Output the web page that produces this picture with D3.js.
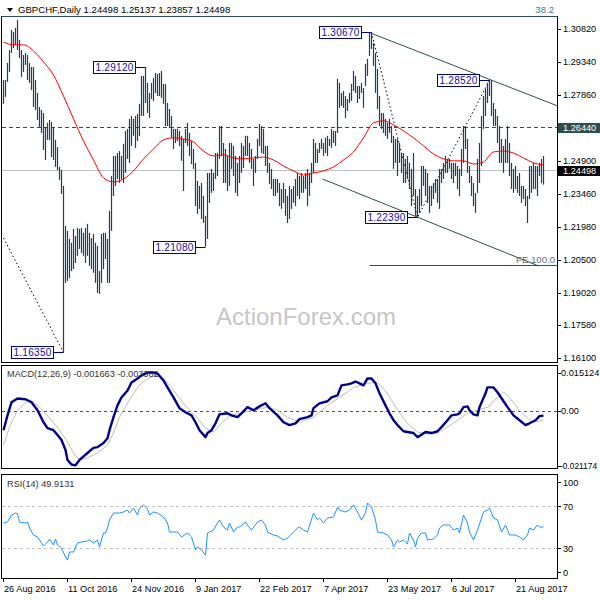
<!DOCTYPE html>
<html><head><meta charset="utf-8">
<script src="https://cdn.jsdelivr.net/npm/d3@7"></script>
<style>
body{margin:0;background:#fff}
svg{display:block}
text{font-family:"Liberation Sans",Arial,sans-serif}
</style>
</head><body>
<svg id="c" width="600" height="600"></svg>
<script>
// ---------------- DATA ----------------
const titleText = "GBPCHF,Daily 1.24498 1.25137 1.23857 1.24498";
const fibText = "38.2";
const lastClose = 1.24498;
const levelLine = 1.2644;

const highs = [
1.2854,1.2854,1.2930,1.2988,1.3078,1.3069,1.3087,1.3122,1.3033,1.2988,
1.2966,1.2975,1.2966,1.2930,1.2912,1.2912,1.2854,1.2796,1.2733,1.2720,
1.2706,1.2644,1.2662,1.2675,1.2666,1.2644,1.2586,1.2554,1.2465,1.2451,
1.2380,1.2201,1.2179,1.2143,1.2125,1.2188,1.2156,1.2192,1.2188,1.2192,
1.2170,1.2192,1.2210,1.2170,1.2147,1.2165,1.2125,1.2111,1.1999,1.2165,
1.2170,1.2170,1.2143,1.2268,1.2424,1.2514,1.2514,1.2527,1.2536,1.2514,
1.2568,1.2626,1.2635,1.2680,1.2693,1.2680,1.2693,1.2702,1.2747,1.2872,
1.2872,1.2912,1.2841,1.2796,1.2841,1.2863,1.2885,1.2881,1.2885,1.2894,
1.2836,1.2836,1.2751,1.2724,1.2693,1.2635,1.2635,1.2635,1.2626,1.2604,
1.2590,1.2635,1.2662,1.2617,1.2581,1.2545,1.2483,1.2402,1.2380,1.2393,
1.2335,1.2246,1.2438,1.2438,1.2456,1.2438,1.2527,1.2527,1.2648,1.2648,
1.2572,1.2545,1.2514,1.2572,1.2572,1.2559,1.2514,1.2483,1.2514,1.2572,
1.2559,1.2604,1.2604,1.2572,1.2545,1.2501,1.2514,1.2590,1.2657,1.2648,
1.2635,1.2559,1.2559,1.2483,1.2456,1.2411,1.2411,1.2411,1.2393,1.2366,
1.2393,1.2366,1.2335,1.2380,1.2366,1.2380,1.2411,1.2438,1.2424,1.2438,
1.2424,1.2438,1.2456,1.2438,1.2483,1.2590,1.2572,1.2545,1.2572,1.2590,
1.2572,1.2595,1.2604,1.2590,1.2635,1.2626,1.2626,1.2859,1.2841,1.2796,
1.2805,1.2782,1.2769,1.2796,1.2836,1.2894,1.2872,1.2827,1.2827,1.2841,
1.2818,1.2926,1.2948,1.3064,1.3067,1.3019,1.2975,1.2903,1.2782,1.2706,
1.2706,1.2680,1.2662,1.2680,1.2648,1.2604,1.2590,1.2590,1.2572,1.2527,
1.2527,1.2501,1.2514,1.2483,1.2456,1.2527,1.2366,1.2335,1.2366,1.2469,
1.2469,1.2456,1.2438,1.2380,1.2380,1.2393,1.2411,1.2411,1.2456,1.2456,
1.2483,1.2514,1.2501,1.2501,1.2483,1.2483,1.2483,1.2469,1.2456,1.2545,
1.2648,1.2648,1.2590,1.2469,1.2424,1.2393,1.2349,1.2501,1.2572,1.2693,
1.2782,1.2814,1.2841,1.2852,1.2852,1.2751,1.2724,1.2693,1.2648,1.2590,
1.2559,1.2590,1.2648,1.2572,1.2483,1.2456,1.2469,1.2424,1.2438,1.2380,
1.2380,1.2366,1.2335,1.2469,1.2469,1.2483,1.2469,1.2469,1.2483,1.2501,
1.25137];

const lows = [
1.2747,1.2778,1.2845,1.2890,1.2975,1.2997,1.3010,1.2988,1.2952,1.2867,
1.2890,1.2921,1.2854,1.2841,1.2809,1.2733,1.2720,1.2675,1.2644,1.2617,
1.2541,1.2496,1.2586,1.2586,1.2509,1.2496,1.2465,1.2451,1.2407,1.2344,
1.1635,1.1946,1.1955,1.1968,1.1999,1.2008,1.2035,1.2067,1.2098,1.2080,
1.2067,1.2035,1.2067,1.2022,1.2008,1.1991,1.1946,1.1901,1.1897,1.1946,
1.2008,1.2053,1.1946,1.1946,1.2179,1.2335,1.2380,1.2411,1.2393,1.2411,
1.2393,1.2438,1.2501,1.2483,1.2559,1.2604,1.2550,1.2581,1.2604,1.2693,
1.2693,1.2751,1.2706,1.2684,1.2769,1.2760,1.2796,1.2782,1.2782,1.2774,
1.2747,1.2648,1.2648,1.2639,1.2595,1.2545,1.2572,1.2581,1.2559,1.2492,
1.2357,1.2572,1.2559,1.2514,1.2478,1.2456,1.2290,1.2255,1.2277,1.2232,
1.2214,1.2108,1.2143,1.2304,1.2349,1.2357,1.2411,1.2424,1.2501,1.2514,
1.2393,1.2393,1.2357,1.2380,1.2456,1.2424,1.2349,1.2335,1.2393,1.2438,
1.2460,1.2514,1.2514,1.2483,1.2456,1.2380,1.2438,1.2501,1.2559,1.2527,
1.2523,1.2469,1.2438,1.2389,1.2366,1.2335,1.2335,1.2349,1.2290,1.2277,
1.2304,1.2246,1.2214,1.2232,1.2277,1.2304,1.2290,1.2335,1.2321,1.2349,
1.2349,1.2366,1.2290,1.2335,1.2393,1.2438,1.2483,1.2483,1.2527,1.2545,
1.2514,1.2527,1.2514,1.2559,1.2550,1.2572,1.2559,1.2617,1.2729,1.2738,
1.2729,1.2684,1.2715,1.2751,1.2760,1.2805,1.2796,1.2751,1.2769,1.2796,
1.2729,1.2827,1.2872,1.2961,1.2993,1.2917,1.2796,1.2724,1.2648,1.2635,
1.2617,1.2604,1.2590,1.2617,1.2572,1.2456,1.2483,1.2424,1.2483,1.2438,
1.2393,1.2393,1.2411,1.2366,1.2290,1.2335,1.2246,1.2239,1.2259,1.2290,
1.2380,1.2335,1.2304,1.2259,1.2290,1.2321,1.2349,1.2304,1.2277,1.2393,
1.2411,1.2438,1.2438,1.2456,1.2411,1.2393,1.2424,1.2366,1.2335,1.2424,
1.2483,1.2545,1.2438,1.2393,1.2335,1.2290,1.2259,1.2349,1.2393,1.2469,
1.2635,1.2693,1.2751,1.2782,1.2693,1.2648,1.2648,1.2572,1.2483,1.2483,
1.2438,1.2483,1.2483,1.2424,1.2366,1.2349,1.2366,1.2349,1.2335,1.2304,
1.2321,1.2290,1.2214,1.2321,1.2349,1.2366,1.2366,1.2335,1.2424,1.2393,
1.23857];

// moving average (red), [bar, price]
const maPoints = [
[0,1.3024],[5,1.3011],[10,1.3011],[15,1.2984],[20,1.2935],[25,1.2876],[30,1.2782],[35,1.2680],
[40,1.2581],[45,1.2496],[50,1.2416],[55,1.2398],[60,1.2411],[65,1.2447],[70,1.2501],[75,1.2545],
[80,1.2586],[85,1.2595],[90,1.2590],[95,1.2577],[100,1.2536],[105,1.2514],[110,1.2519],[115,1.2505],
[120,1.2501],[125,1.2505],[130,1.2509],[135,1.2496],[140,1.2469],[145,1.2447],[150,1.2429],[155,1.2438],
[160,1.2447],[165,1.2465],[170,1.2496],[175,1.2532],[180,1.2595],[185,1.2662],[190,1.2671],[195,1.2653],
[200,1.2626],[205,1.2595],[210,1.2559],[215,1.2523],[220,1.2501],[225,1.2492],[230,1.2492],[235,1.2478],
[240,1.2487],[245,1.2532],[250,1.2536],[255,1.2527],[260,1.2505],[265,1.2483],[270,1.2474]];

const priceTicks = [1.3082,1.2934,1.2786,1.2490,1.2346,1.2198,1.2050,1.1902,1.1758,1.1610];

// swing labels: [bar, price, text]
const swingLabels = [[30,1.1635,"1.16350"],[71,1.2912,"1.29120"],[101,1.2108,"1.21080"],
  [184,1.3067,"1.30670"],[207,1.2239,"1.22390"],[243,1.2852,"1.28520"]];

// trend channel and projection, [bar, price]
const upperTrend = [[183.5,1.3064],[277,1.2738]];
const lowerTrend = [[159.5,1.2411],[267.5,1.2022]];
const feLevel = [[183,1.2024],[277,1.2024]];
const feText = "FE 100.0";
const zigzag1 = [[0,1.2147],[30,1.1635]];
const zigzag2 = [[184,1.3067],[207,1.2239],[243,1.2852]];

// MACD, [bar, value]
const macdHeader = "MACD(12,26,9) -0.001663 -0.003362";
const macdMain = [
[0,-0.0074],[2,-0.0016],[4,0.0035],[7,0.0050],[11,0.0047],[14,0.0035],[17,0.0004],[20,-0.0043],
[22,-0.0066],[25,-0.0074],[27,-0.0093],[29,-0.0112],[31,-0.0151],[32,-0.0190],[34,-0.0208],[36,-0.0211],
[38,-0.0190],[42,-0.0163],[45,-0.0143],[47,-0.0140],[50,-0.0124],[52,-0.0105],[53,-0.0074],[55,-0.0023],
[57,0.0023],[59,0.0054],[62,0.0081],[64,0.0112],[67,0.0128],[69,0.0140],[72,0.0151],[75,0.0151],
[77,0.0147],[80,0.0120],[82,0.0093],[85,0.0054],[88,0.0012],[91,-0.0004],[94,-0.0016],[96,-0.0043],
[98,-0.0074],[101,-0.0101],[102,-0.0085],[104,-0.0074],[106,-0.0047],[108,-0.0012],[112,-0.0008],[114,-0.0016],
[117,-0.0023],[119,-0.0008],[122,0.0016],[125,0.0004],[128,0.0019],[131,0.0031],[133,0.0012],[137,-0.0016],
[140,-0.0043],[143,-0.0054],[146,-0.0047],[148,-0.0031],[152,-0.0023],[154,-0.0016],[155,0.0012],[158,0.0031],
[162,0.0039],[164,0.0054],[167,0.0062],[169,0.0101],[172,0.0105],[174,0.0109],[176,0.0116],[178,0.0109],
[180,0.0101],[182,0.0128],[184,0.0128],[186,0.0109],[188,0.0070],[191,0.0023],[193,-0.0008],[195,-0.0035],
[197,-0.0054],[200,-0.0078],[202,-0.0081],[205,-0.0085],[207,-0.0101],[208,-0.0097],[211,-0.0081],[214,-0.0085],
[217,-0.0078],[219,-0.0062],[222,-0.0035],[224,-0.0016],[227,-0.0012],[228,-0.0008],[230,0.0016],[232,0.0019],
[233,0.0004],[235,-0.0012],[237,-0.0016],[238,0.0016],[241,0.0070],[242,0.0093],[245,0.0093],[247,0.0074],
[250,0.0039],[252,0.0016],[255,-0.0016],[258,-0.0035],[261,-0.0054],[263,-0.0047],[266,-0.0035],[268,-0.0019],
[270,-0.0017]];
const macdSignal = [
[0,-0.0132],[3,-0.0062],[7,0.0004],[11,0.0035],[14,0.0043],[18,0.0016],[23,-0.0027],[27,-0.0062],
[32,-0.0120],[35,-0.0163],[38,-0.0190],[42,-0.0182],[47,-0.0163],[52,-0.0132],[55,-0.0085],[58,-0.0023],
[62,0.0031],[65,0.0070],[68,0.0101],[72,0.0128],[76,0.0140],[80,0.0128],[83,0.0101],[87,0.0062],
[92,0.0012],[97,-0.0027],[101,-0.0066],[105,-0.0081],[109,-0.0047],[113,-0.0019],[118,-0.0008],[125,0.0004],
[132,0.0016],[137,0.0004],[142,-0.0023],[148,-0.0043],[155,-0.0023],[162,0.0023],[168,0.0054],[175,0.0093],
[182,0.0109],[187,0.0112],[192,0.0070],[197,0.0004],[202,-0.0047],[207,-0.0081],[212,-0.0089],[217,-0.0085],
[222,-0.0062],[227,-0.0035],[232,-0.0008],[237,0.0004],[242,0.0016],[247,0.0054],[250,0.0074],[253,0.0054],
[257,0.0012],[262,-0.0027],[265,-0.0043],[270,-0.0034]];
const macdTicks = [0.015124, 0.0, -0.021174];
const macdTickText = ["0.015124","0.00","-0.021174"];

// RSI, [bar, value]
const rsiHeader = "RSI(14) 49.9131";
const rsiPoints = [
[0,53.8],[2,54.8],[4,61.4],[6,63.3],[7,62.4],[8,54.8],[11,53.8],[12,54.8],[13,49.0],[15,42.4],
[17,40.5],[18,37.6],[20,31.9],[22,35.7],[23,38.6],[25,32.9],[26,38.6],[27,32.9],[29,30.0],[31,21.4],
[32,18.6],[33,26.2],[35,26.2],[37,34.8],[39,35.7],[42,36.7],[43,37.6],[45,34.8],[47,37.6],[48,31.0],
[50,44.3],[51,44.3],[52,49.0],[53,56.7],[55,63.3],[58,63.3],[60,64.3],[62,66.2],[63,63.3],[65,68.0],
[67,61.4],[68,68.0],[70,71.0],[72,67.1],[73,61.4],[75,64.3],[77,63.3],[80,59.5],[82,53.8],[83,45.2],
[87,45.2],[89,40.5],[92,44.3],[94,40.5],[96,28.1],[97,31.0],[99,28.1],[101,23.3],[102,44.3],[103,45.2],
[105,47.1],[107,53.8],[108,56.7],[110,50.0],[112,47.1],[113,53.8],[115,45.2],[117,50.0],[118,50.0],[121,54.8],
[122,51.9],[124,47.1],[127,54.8],[129,56.7],[131,51.9],[132,45.2],[135,42.4],[137,41.4],[140,37.6],[142,39.5],
[145,45.2],[147,49.0],[148,50.0],[150,47.1],[152,45.2],[155,63.3],[157,56.7],[158,58.6],[160,53.8],[162,58.6],
[165,59.5],[167,69.0],[168,66.2],[171,64.3],[173,66.2],[175,71.0],[177,64.3],[179,56.7],[181,63.3],[182,72.9],
[184,69.0],[186,56.7],[187,45.2],[190,44.3],[192,42.4],[194,37.6],[195,31.0],[197,37.6],[198,35.7],[200,37.6],
[202,33.8],[203,44.3],[205,37.6],[206,31.0],[207,39.5],[209,44.3],[211,44.3],[212,37.6],[215,38.6],[217,42.4],
[218,49.0],[220,51.9],[223,51.9],[225,47.1],[227,49.0],[228,44.3],[230,61.4],[232,53.8],[233,45.2],[235,37.6],
[237,47.1],[240,64.3],[242,66.2],[243,68.0],[245,58.6],[247,56.7],[249,45.2],[251,51.9],[253,42.4],[256,42.4],
[258,40.5],[260,37.6],[262,42.4],[263,49.0],[265,47.1],[267,51.9],[268,50.0],[270,49.9]];
const rsiTicks = [100,70,30,0];
const rsiLevels = [70,30];

// time axis
const dateTickBars = [0,32,64,96,128,160,192,224,256];
const dateTickLabels = ["26 Aug 2016","11 Oct 2016","24 Nov 2016","9 Jan 2017","22 Feb 2017",
  "7 Apr 2017","23 May 2017","6 Jul 2017","21 Aug 2017"];
const watermark = "ActionForex.com";

// ---------------- DRAW ----------------
const svg = d3.select("#c");
const AX = 557;
const MAIN = {top:16, bottom:362};
const MACDP = {top:365, bottom:468};
const RSIP = {top:474, bottom:578};
const FS = 9.2;

const x = d3.scaleLinear().domain([0, highs.length-1]).range([3, 3 + 2*(highs.length-1)]);
const y = d3.scaleLinear().domain([1.1610, 1.3082]).range([358, 29]);
const ym = d3.scaleLinear().domain([-0.021174, 0.015124]).range([465.5, 372.5]);
const yr = d3.scaleLinear().domain([0, 100]).range([579.5, 474.5]);

const defs = svg.append("defs");
defs.append("clipPath").attr("id","clipMain").append("rect")
  .attr("x",2).attr("y",MAIN.top+1).attr("width",AX-2).attr("height",MAIN.bottom-MAIN.top-1);
defs.append("clipPath").attr("id","clipMacd").append("rect")
  .attr("x",2).attr("y",MACDP.top+1).attr("width",AX-2).attr("height",MACDP.bottom-MACDP.top-1);
defs.append("clipPath").attr("id","clipRsi").append("rect")
  .attr("x",2).attr("y",RSIP.top+1).attr("width",AX-2).attr("height",RSIP.bottom-RSIP.top-1);

svg.append("rect").attr("width",600).attr("height",600).attr("fill","#fff");

svg.append("path").attr("d","M7,8 L13,8 L10,12 Z").attr("fill","#000");
svg.append("text").attr("x",18).attr("y",13).attr("font-size",9.6).attr("fill","#000").text(titleText);
svg.append("text").attr("x",554).attr("y",13).attr("text-anchor","end").attr("font-size",9.6)
  .attr("fill","#4f6f8a").text(fibText);

const gm = svg.append("g").attr("clip-path","url(#clipMain)");

gm.append("text").attr("x",306).attr("y",325).attr("text-anchor","middle").attr("font-size",24)
  .attr("fill","#c6c6c6").text(watermark);

gm.append("line").attr("x1",2).attr("x2",AX).attr("y1",Math.round(y(lastClose))+0.5).attr("y2",Math.round(y(lastClose))+0.5)
  .attr("stroke","#c0c0c0").attr("stroke-width",1);
gm.append("line").attr("x1",2).attr("x2",AX).attr("y1",Math.round(y(levelLine))+0.5).attr("y2",Math.round(y(levelLine))+0.5)
  .attr("stroke","#2f4f4f").attr("stroke-width",1).attr("stroke-dasharray","4,3");

const pline = d3.line().x(d=>x(d[0])+0.5).y(d=>y(d[1]));
gm.append("path").attr("d",pline(feLevel)).attr("fill","none").attr("stroke","#2f4f4f").attr("stroke-width",1);
gm.append("text").attr("x",555).attr("y",y(feLevel[0][1])-2).attr("text-anchor","end").attr("font-size",9.6)
  .attr("fill","#5a6f80").text(feText);
[upperTrend, lowerTrend].forEach(t=>{
  gm.append("path").attr("d",pline(t)).attr("fill","none").attr("stroke","#2f4f4f").attr("stroke-width",1);
});
[zigzag1, zigzag2].forEach(z=>{
  gm.append("path").attr("d",pline(z)).attr("fill","none").attr("stroke","#000").attr("stroke-width",1)
    .attr("stroke-dasharray","1.5,2.5");
});

gm.append("g").selectAll("line").data(highs).join("line")
  .attr("x1",(d,i)=>x(i)+0.5).attr("x2",(d,i)=>x(i)+0.5)
  .attr("y1",d=>y(d)).attr("y2",(d,i)=>y(lows[i]))
  .attr("stroke","#17435e").attr("stroke-width",1.2);

gm.append("path").attr("d",d3.line().curve(d3.curveMonotoneX).x(d=>x(d[0])+0.5).y(d=>y(d[1]))(maPoints))
  .attr("fill","none").attr("stroke","#ff0000").attr("stroke-width",1);

swingLabels.forEach(([b,p,t])=>{
  const bx = x(b), py = Math.round(y(p));
  const w = 42, h = 12, right = bx - 10;
  gm.append("line").attr("x1",right).attr("x2",bx+0.5).attr("y1",py+0.5).attr("y2",py+0.5)
    .attr("stroke","#000080").attr("stroke-width",1);
  gm.append("rect").attr("x",right-w+0.5).attr("y",py-h/2+0.5).attr("width",w).attr("height",h)
    .attr("fill","#fff").attr("stroke","#000080").attr("stroke-width",1);
  gm.append("text").attr("x",right-w/2+0.5).attr("y",py+4).attr("text-anchor","middle")
    .attr("font-size",10).attr("fill","#1010a0").attr("letter-spacing",0.3).text(t);
});

svg.append("line").attr("x1",1).attr("x2",AX).attr("y1",MAIN.top+0.5).attr("y2",MAIN.top+0.5).attr("stroke","#2f4f4f");
svg.append("line").attr("x1",1.5).attr("x2",1.5).attr("y1",MAIN.top).attr("y2",MAIN.bottom+1).attr("stroke","#000");
svg.append("line").attr("x1",1).attr("x2",AX+1).attr("y1",MAIN.bottom+0.5).attr("y2",MAIN.bottom+0.5).attr("stroke","#000");
svg.append("line").attr("x1",AX+0.5).attr("x2",AX+0.5).attr("y1",MAIN.top).attr("y2",MAIN.bottom+1).attr("stroke","#000");

const pa = svg.append("g");
priceTicks.forEach(v=>{
  const py = Math.round(y(v));
  pa.append("line").attr("x1",AX).attr("x2",AX+4).attr("y1",py+0.5).attr("y2",py+0.5).attr("stroke","#000");
  pa.append("text").attr("x",563).attr("y",py+3).attr("font-size",FS).attr("fill","#000").text(v.toFixed(5));
});
[[levelLine,"#2f4f4f"],[lastClose,"#000"]].forEach(([v,c])=>{
  const py = Math.round(y(v));
  pa.append("rect").attr("x",558).attr("y",py-4).attr("width",42).attr("height",10).attr("fill",c);
  pa.append("text").attr("x",563).attr("y",py+4).attr("font-size",FS).attr("fill","#fff").text(v.toFixed(5));
});

// MACD panel
svg.append("rect").attr("x",0).attr("y",MAIN.bottom+1).attr("width",600).attr("height",MACDP.top-MAIN.bottom-1).attr("fill","#fff");
svg.append("rect").attr("x",1.5).attr("y",MACDP.top+0.5).attr("width",AX-1).attr("height",MACDP.bottom-MACDP.top)
  .attr("fill","#fff").attr("stroke","#000");
const gd = svg.append("g").attr("clip-path","url(#clipMacd)");
gd.append("line").attr("x1",2).attr("x2",AX).attr("y1",Math.round(ym(0))+0.5).attr("y2",Math.round(ym(0))+0.5)
  .attr("stroke","#555").attr("stroke-dasharray","3,3");
const ml = d3.line().x(d=>x(d[0])+0.5).y(d=>ym(d[1]));
gd.append("path").attr("d",ml(macdSignal)).attr("fill","none").attr("stroke","#bdbdbd").attr("stroke-width",1);
gd.append("path").attr("d",ml(macdMain)).attr("fill","none").attr("stroke","#00008b").attr("stroke-width",2.4)
  .attr("stroke-linejoin","round");
svg.append("text").attr("x",7).attr("y",377).attr("font-size",FS).attr("fill","#333").text(macdHeader);
macdTicks.forEach((v,i)=>{
  const py = Math.round(ym(v));
  svg.append("line").attr("x1",AX).attr("x2",AX+4).attr("y1",py+0.5).attr("y2",py+0.5).attr("stroke","#000");
  const long = macdTickText[i].length > 8;
  svg.append("text").attr("x",long ? 560 : 561).attr("y",py+3).attr("font-size",long ? 8.4 : FS)
    .attr("fill","#000").text(macdTickText[i]);
});

// RSI panel
svg.append("rect").attr("x",0).attr("y",MACDP.bottom+1).attr("width",600).attr("height",RSIP.top-MACDP.bottom-1).attr("fill","#fff");
svg.append("rect").attr("x",1.5).attr("y",RSIP.top+0.5).attr("width",AX-1).attr("height",RSIP.bottom-RSIP.top)
  .attr("fill","#fff").attr("stroke","#000");
const gr = svg.append("g").attr("clip-path","url(#clipRsi)");
rsiLevels.forEach(v=>{
  gr.append("line").attr("x1",2).attr("x2",AX).attr("y1",Math.round(yr(v))+0.5).attr("y2",Math.round(yr(v))+0.5)
    .attr("stroke","#c0c0c0").attr("stroke-dasharray","3,3");
});
gr.append("path").attr("d",d3.line().x(d=>x(d[0])+0.5).y(d=>yr(d[1]))(rsiPoints))
  .attr("fill","none").attr("stroke","#1e90ff").attr("stroke-width",1);
svg.append("text").attr("x",7).attr("y",487).attr("font-size",FS).attr("fill","#333").text(rsiHeader);
rsiTicks.forEach(v=>{
  let ly = Math.round(yr(v));
  if (v===100) ly = RSIP.top+8;
  if (v===0) ly = RSIP.bottom-6;
  svg.append("line").attr("x1",AX).attr("x2",AX+4).attr("y1",ly+0.5).attr("y2",ly+0.5).attr("stroke","#000");
  svg.append("text").attr("x",563).attr("y",ly+3.5).attr("font-size",FS).attr("fill","#000").text(v);
});

// time axis
dateTickBars.forEach((b,i)=>{
  const tx = x(b);
  svg.append("line").attr("x1",tx+0.5).attr("x2",tx+0.5).attr("y1",RSIP.bottom).attr("y2",RSIP.bottom+4).attr("stroke","#000");
  svg.append("text").attr("x",tx+1).attr("y",592).attr("font-size",FS).attr("fill","#000").text(dateTickLabels[i]);
});
</script>
</body></html>
